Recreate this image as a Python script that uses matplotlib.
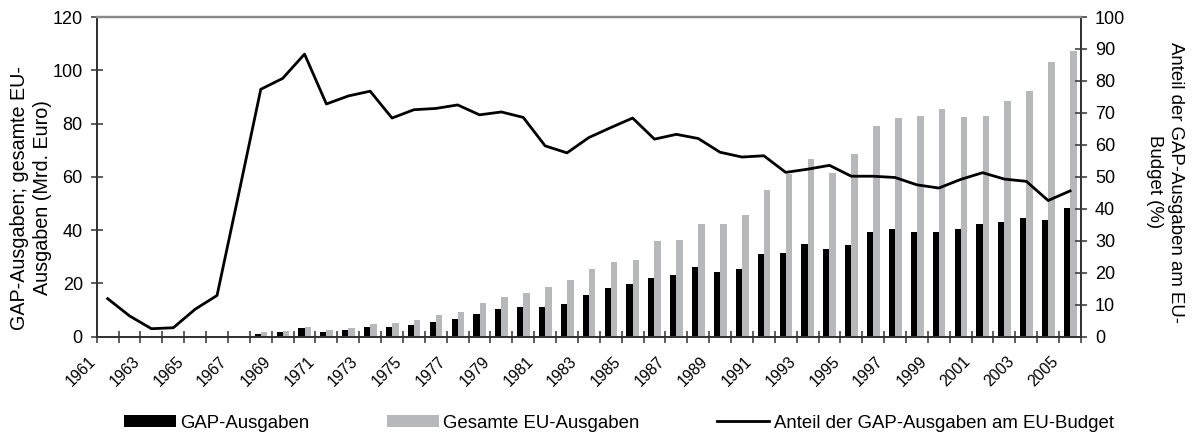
import numpy as np
import matplotlib
matplotlib.use('Agg')
import matplotlib.pyplot as plt
from matplotlib.transforms import ScaledTranslation

plt.rcParams['font.family'] = ['Liberation Sans', 'DejaVu Sans']
plt.rcParams['font.size'] = 13

# data
years = list(range(1961, 2006))
gap_ausgaben = [0, 0, 0, 0, 0, 0, 0.2, 1.1, 1.6, 3.1, 1.75, 2.4, 3.6, 3.5, 4.4,
                5.6, 6.6, 8.6, 10.3, 11.3, 11.0, 12.1, 15.7, 18.3, 19.8, 22.0,
                23.0, 26.3, 24.4, 25.5, 30.9, 31.3, 34.8, 32.9, 34.4, 39.2,
                40.4, 39.2, 39.4, 40.4, 42.2, 43.2, 44.5, 43.7, 48.4]
eu_ausgaben = [0, 0, 0, 0, 0, 0, 0.3, 1.75, 2.1, 3.6, 2.5, 3.3, 4.8, 5.1, 6.3,
               8.1, 9.3, 12.6, 14.9, 16.4, 18.7, 21.3, 25.4, 28.1, 28.8, 35.9,
               36.3, 42.3, 42.3, 45.7, 55.1, 60.9, 66.8, 61.5, 68.6, 79.2,
               82.2, 83.0, 85.3, 82.6, 83.0, 88.3, 92.1, 103.1, 107.2]
anteil = [11.9, 6.5, 2.5, 2.8, 8.6, 12.9, 45.0, 77.4, 80.8, 88.4, 72.8, 75.3,
          76.8, 68.4, 71.0, 71.4, 72.5, 69.4, 70.3, 68.6, 59.7, 57.5, 62.3,
          65.4, 68.4, 61.8, 63.3, 62.0, 57.7, 56.2, 56.6, 51.4, 52.4, 53.6,
          50.2, 50.2, 49.8, 47.5, 46.5, 49.2, 51.3, 49.3, 48.6, 42.6, 45.6]

x = np.arange(len(years))
dark = '#333333'
grey = '#b6b8ba'

fig = plt.figure(figsize=(11.93, 4.33), dpi=100)
ax = fig.add_axes([0.0811, 0.2224, 0.825, 0.7383])
ax2 = ax.twinx()

ax.bar(x - 0.28, gap_ausgaben, width=0.28, align='edge', color='black',
       label='GAP-Ausgaben')
ax.bar(x, eu_ausgaben, width=0.3, align='edge', color=grey,
       label='Gesamte EU-Ausgaben')
ax2.plot(x, anteil, color='black', lw=2, label='Anteil der GAP-Ausgaben am EU-Budget')

ax.set_xlim(-0.5, len(years) - 0.5)
ax.set_ylim(0, 120)
ax2.set_ylim(0, 100)
ax.set_yticks(range(0, 121, 20))
ax2.set_yticks(range(0, 101, 10))

# labels every second year, ticks between categories
ax.set_xticks(x[::2])
ax.set_xticklabels([str(y) for y in years[::2]], rotation=45, ha='right',
                   va='center', rotation_mode='anchor', fontsize=11.3)
ax.set_xticks(np.arange(-0.5, len(years), 1), minor=True)
ax.tick_params(axis='x', which='major', length=0, pad=16)
ax.tick_params(axis='x', which='minor', direction='inout', length=8,
               width=1.1, color=dark)
offset = ScaledTranslation(-0.1425, 0, fig.dpi_scale_trans)
for lab in ax.get_xticklabels():
    lab.set_transform(lab.get_transform() + offset)

ax.tick_params(axis='y', direction='inout', length=8, width=1.1, color=dark, pad=6)
ax2.tick_params(axis='y', direction='inout', length=8, width=1.1, color=dark, pad=6)

for a in (ax, ax2):
    for s in ('left', 'right', 'bottom'):
        a.spines[s].set_color(dark)
        a.spines[s].set_linewidth(1.3)
    a.spines['top'].set_color('#8a8a8a')
    a.spines['top'].set_linewidth(1.6)

fig.text(31 / 1193, 1 - 197.5 / 433, 'GAP-Ausgaben; gesamte EU-\nAusgaben (Mrd. Euro)',
         rotation=90, ha='center', va='center', multialignment='center',
         linespacing=1.3, fontsize=14.2)
fig.text(1165 / 1193, 1 - 182 / 433, 'Anteil der GAP-Ausgaben am EU-\nBudget (%)',
         rotation=270, ha='center', va='center', multialignment='center',
         linespacing=1.3, fontsize=13.4)

h1, l1 = ax.get_legend_handles_labels()
h2, l2 = ax2.get_legend_handles_labels()
fig.legend(h1 + h2, l1 + l2, loc='center', bbox_to_anchor=(0.5185, 1 - 423 / 433),
           ncol=3, frameon=False, fontsize=13.4, handlelength=2.8,
           handleheight=0.65, handletextpad=0.25, columnspacing=4.14, borderpad=0)

fig.savefig('out.png', dpi=100)
